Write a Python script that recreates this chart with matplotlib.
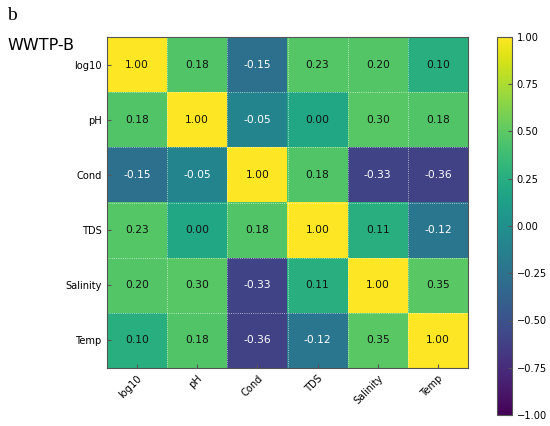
import matplotlib
matplotlib.use("Agg")
import matplotlib.pyplot as plt
import matplotlib.colors as mcolors
import matplotlib.cm as cm
import numpy as np

labels = ["log10", "pH", "Cond", "TDS", "Salinity", "Temp"]
corr = [
    [1.00, 0.18, -0.15, 0.23, 0.20, 0.10],
    [0.18, 1.00, -0.05, 0.00, 0.30, 0.18],
    [-0.15, -0.05, 1.00, 0.18, -0.33, -0.36],
    [0.23, 0.00, 0.18, 1.00, 0.11, -0.12],
    [0.20, 0.30, -0.33, 0.11, 1.00, 0.35],
    [0.10, 0.18, -0.36, -0.12, 0.35, 1.00],
]
corr = np.array(corr)

# colour response of the cells
norm_v = [-1.0, -0.36, -0.33, -0.15, -0.05, 0.0, 0.11, 0.18, 0.5, 1.0]
norm_t = [0.0, 0.195, 0.205, 0.37, 0.45, 0.60, 0.63, 0.73, 0.76, 1.0]


def fwd(x):
    return np.interp(x, norm_v, norm_t)


def inv(t):
    return np.interp(t, norm_t, norm_v)


cell_norm = mcolors.FuncNorm((fwd, inv), vmin=-1, vmax=1)

fig = plt.figure(figsize=(5.5, 4.26), dpi=100)
ax = fig.add_axes([107 / 550, 58 / 426, 361 / 550, 331 / 426])
cax = fig.add_axes([497 / 550, 11 / 426, 15 / 550, 378 / 426])

ax.imshow(corr, cmap="viridis", norm=cell_norm, aspect="auto")

n = len(labels)
for i in range(n):
    for j in range(n):
        v = corr[i, j]
        ax.text(j, i, f"{v:.2f}", ha="center", va="center", fontsize=7.7,
                color="white" if v < 0 else "#111111")

ax.set_xticks(range(n))
ax.set_yticks(range(n))
ax.set_xticklabels(labels, rotation=45, ha="right", rotation_mode="anchor")
ax.set_yticklabels(labels)
ax.set_xticks(np.arange(-0.5, n, 1), minor=True)
ax.set_yticks(np.arange(-0.5, n, 1), minor=True)
ax.grid(which="minor", color="white", linestyle=":", linewidth=0.6, alpha=0.8)
ax.tick_params(which="minor", length=0)
ax.tick_params(which="major", direction="in", length=3, labelsize=7.1,
               color="#555555", pad=4)
for s in ax.spines.values():
    s.set_edgecolor("#555555")
    s.set_linewidth(0.8)

cb = fig.colorbar(cm.ScalarMappable(norm=mcolors.Normalize(-1, 1), cmap="viridis"),
                  cax=cax)
cb.set_ticks(np.arange(-1, 1.01, 0.25))
cb.ax.tick_params(direction="in", length=3, labelsize=7.1, color="#555555")
cb.outline.set_edgecolor("#555555")
cb.outline.set_linewidth(0.8)

fig.text(7 / 550, 1 - 46 / 426, "WWTP-B", fontsize=11.5, ha="left", va="center")
fig.text(7 / 550, 1 - 15 / 426, "b", fontsize=14, family="Liberation Serif",
         ha="left", va="center")

fig.savefig("out.png", dpi=100)
